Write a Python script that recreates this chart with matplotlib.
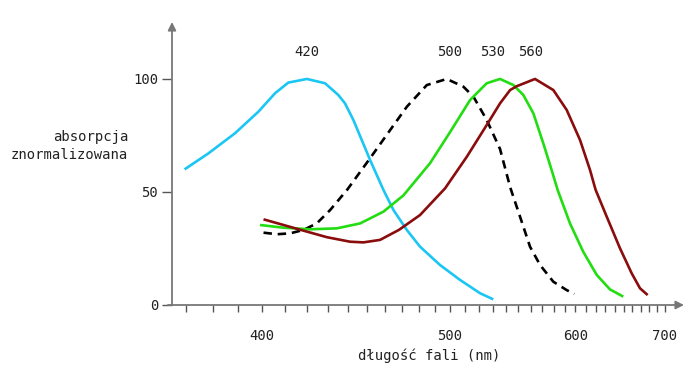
import numpy as np
import matplotlib.pyplot as plt

# wavelength (nm) / normalized absorption
blue_x = [369.5, 378.4, 388.8, 398.4, 405.6, 411.5, 420.0, 428.7, 435.3, 438.7, 443.0,
          451.9, 459.3, 465.0, 472.8, 480.8, 493.4, 506.7, 520.8, 530.5]
blue_y = [60.0, 67.1, 76.0, 85.5, 93.7, 98.4, 100.0, 98.1, 92.9, 89.2, 81.9,
          64.2, 50.9, 42.0, 33.2, 25.8, 17.7, 11.1, 5.2, 2.5]

rod_x = [400.6, 406.4, 412.3, 418.4, 424.7, 431.2, 440.0, 451.9, 463.1, 472.8, 485.0, 497.8,
         509.0, 516.0, 525.6, 535.6, 543.5, 551.3, 559.5, 568.0, 579.6, 591.8, 599.0]
rod_y = [32.0, 31.3, 31.7, 33.2, 36.1, 42.0, 51.2, 64.9, 77.4, 87.7, 97.3, 100.0,
         96.6, 92.2, 81.9, 69.0, 52.0, 39.1, 25.8, 17.7, 10.3, 6.6, 4.9]

green_x = [399.1, 409.3, 421.5, 434.5, 446.6, 459.3, 470.8, 487.0, 500.2, 513.7, 525.6, 535.6,
           546.0, 554.0, 562.3, 570.8, 578.1, 583.5, 594.9, 607.7, 621.2, 635.1, 649.7]
green_y = [35.4, 34.2, 33.5, 33.9, 36.1, 41.3, 48.5, 62.7, 76.7, 90.7, 98.1, 100.0,
           97.3, 92.9, 84.8, 71.5, 59.7, 50.9, 36.1, 23.5, 13.3, 6.9, 3.7]

red_x = [400.6, 409.3, 418.4, 429.6, 441.3, 448.3, 457.4, 468.1, 480.8, 496.7, 511.4, 525.6,
         535.6, 543.4, 548.7, 563.7, 579.6, 591.8, 604.5, 614.4, 620.0, 631.6, 646.0, 659.3,
         669.0, 678.3]
red_y = [37.9, 35.4, 32.9, 30.0, 28.0, 27.7, 28.8, 33.2, 39.8, 51.6, 65.6, 79.6,
         89.2, 95.1, 96.8, 100.0, 95.1, 86.3, 73.0, 59.7, 51.0, 39.1, 25.1, 14.0,
         7.4, 4.4]

peaks = [420, 500, 530, 560]
xticks = list(range(370, 701, 10))
xlabels = [400, 500, 600, 700]
yticks = [0, 50, 100]

plt.rcParams['font.family'] = 'DejaVu Sans Mono'
fig = plt.figure(figsize=(6.86, 3.65), dpi=100)
W, H = 686, 365
ax = fig.add_axes([172 / W, (H - 305) / H, (684 - 172) / W, (305 - 22) / H])

# wavelength axis is linear in 1/lambda
ax.set_xscale('function', functions=(lambda v: -1.0 / v, lambda v: -1.0 / v))
ax.set_xlim(365.0, 376000 / (1202 - 684))
ax.set_ylim(0, 125.2)

kw = dict(lw=1.9, solid_joinstyle='round', solid_capstyle='butt')
ax.plot(blue_x, blue_y, color='#1cc6f4', **kw)
ax.plot(rod_x, rod_y, color='black', lw=1.9, dashes=(3.2, 2.2), dash_joinstyle='round')
ax.plot(green_x, green_y, color='#22dd11', **kw)
ax.plot(red_x, red_y, color='#8a0c0c', **kw)

for p in peaks:
    ax.text(p, 112, str(p), ha='center', va='center', fontsize=10, color='#222222')

for s in ax.spines.values():
    s.set_visible(False)
ax.annotate('', xy=(0, 1.0), xytext=(0, 0), xycoords='axes fraction',
            arrowprops=dict(arrowstyle='-|>', color='#777777', lw=1.3, mutation_scale=12, shrinkA=0, shrinkB=0))
ax.annotate('', xy=(1.0, 0), xytext=(-0.008, 0), xycoords='axes fraction',
            arrowprops=dict(arrowstyle='-|>', color='#777777', lw=1.3, mutation_scale=12, shrinkA=0, shrinkB=0))

ax.set_xticks(xticks)
ax.set_xticklabels([str(t) if t in xlabels else '' for t in xticks])
ax.xaxis.set_minor_locator(plt.NullLocator())
ax.tick_params(axis='x', direction='out', length=5, width=1, color='#555555', pad=12, labelsize=10, labelcolor='#222222')
ax.set_yticks(yticks)
ax.tick_params(axis='y', direction='out', length=7, width=1, color='#555555', pad=3, labelsize=10, labelcolor='#222222')

fig.text(128 / W, 1 - 146 / H, 'absorpcja\nznormalizowana', ha='right', va='center', fontsize=10,
         color='#222222', linespacing=1.4)
fig.text(358 / W, 1 - 356 / H, 'długość fali (nm)', ha='left', va='center', fontsize=10, color='#222222')

fig.savefig('out.png', dpi=100)
